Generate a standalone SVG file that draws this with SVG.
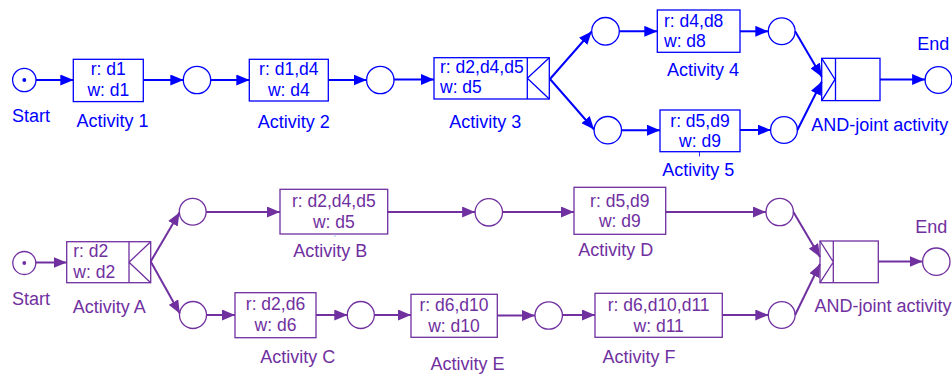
<svg xmlns="http://www.w3.org/2000/svg" width="952" height="374" viewBox="0 0 952 374">
  <style>
    text { font-family: "Liberation Sans", Arial, sans-serif; }
    .b { fill: none; stroke: #0000FF; stroke-width: 1.3; }
    .p { fill: none; stroke: #7030A0; stroke-width: 1.3; }
    .bt { fill: #0000FF; }
    .pt { fill: #7030A0; }
    .in { font-size: 17.5px; }
    .lb { font-size: 18px; text-anchor: middle; }
    .c { text-anchor: middle; }
    .eb { stroke: #0000FF; stroke-width: 2; fill: none; marker-end: url(#ab); }
    .ep { stroke: #7030A0; stroke-width: 2; fill: none; marker-end: url(#ap); }
  </style>
  <defs>
    <marker id="ab" viewBox="0 0 13 11" refX="13" refY="5.5" markerWidth="13" markerHeight="11" markerUnits="userSpaceOnUse" orient="auto">
      <path d="M0,0 L13,5.5 L0,11 z" fill="#0000FF"/>
    </marker>
    <marker id="ap" viewBox="0 0 13 11" refX="13" refY="5.5" markerWidth="13" markerHeight="11" markerUnits="userSpaceOnUse" orient="auto">
      <path d="M0,0 L13,5.5 L0,11 z" fill="#7030A0"/>
    </marker>
  </defs>

  <!-- Upper process (blue) -->
  <g id="start1">
    <circle class="b" cx="24.3" cy="80" r="11.7"/>
    <circle class="bt" cx="24.3" cy="80" r="1.9"/>
    <text class="bt lb" x="31" y="121.7">Start</text>
  </g>
  <g id="act1">
    <rect class="b" x="73.3" y="59.3" width="70" height="42.3"/>
    <text class="bt in c" x="108.3" y="75">r: d1</text>
    <text class="bt in c" x="108.3" y="96">w: d1</text>
    <text class="bt lb" x="112.5" y="127.3">Activity 1</text>
  </g>
  <g id="pa1"><circle class="b" cx="197" cy="80" r="13.7"/></g>
  <g id="act2">
    <rect class="b" x="249.3" y="59.3" width="79" height="41.7"/>
    <text class="bt in c" x="288.8" y="75">r: d1,d4</text>
    <text class="bt in c" x="288.8" y="95.7">w: d4</text>
    <text class="bt lb" x="293.8" y="128.3">Activity 2</text>
  </g>
  <g id="pa2"><circle class="b" cx="380.3" cy="80" r="13.7"/></g>
  <g id="act3">
    <rect class="b" x="434" y="57.7" width="115.3" height="41.3"/>
    <path class="b" d="M527.3,57.7 V99 M549.3,57.7 L527.3,78.3 L549.3,99"/>
    <text class="bt in" x="440" y="73.3">r: d2,d4,d5</text>
    <text class="bt in" x="440" y="93.3">w: d5</text>
    <text class="bt lb" x="485.3" y="128.3">Activity 3</text>
  </g>
  <g id="pa3"><circle class="b" cx="605.5" cy="31.3" r="13.8"/></g>
  <g id="pa4"><circle class="b" cx="607.8" cy="130.2" r="13.7"/></g>
  <g id="act4">
    <rect class="b" x="657.3" y="10" width="82.7" height="42.3"/>
    <text class="bt in" x="664" y="26.7">r: d4,d8</text>
    <text class="bt in" x="664" y="46.7">w: d8</text>
    <text class="bt lb" x="703" y="76">Activity 4</text>
  </g>
  <g id="act5">
    <rect class="b" x="660" y="110" width="80" height="41.7"/>
    <line x1="699.5" y1="151.7" x2="699.5" y2="156.5" stroke="#0000FF" stroke-width="0.8"/>
    <text class="bt in c" x="700" y="126.7">r: d5,d9</text>
    <text class="bt in c" x="700" y="146.7">w: d9</text>
    <text class="bt lb" x="698.3" y="176.3">Activity 5</text>
  </g>
  <g id="pa5"><circle class="b" cx="781.7" cy="31.3" r="13.4"/></g>
  <g id="pa6"><circle class="b" cx="784" cy="130" r="13.4"/></g>
  <g id="and1">
    <rect class="b" x="821.7" y="58.3" width="58.3" height="42.3"/>
    <path class="b" d="M835.5,58.3 V100.6 M821.7,58.3 L835,79.4 L821.7,100.6"/>
    <text class="bt lb" x="879.8" y="131">AND-joint activity</text>
  </g>
  <g id="end1">
    <circle class="b" cx="938.5" cy="80" r="13.4"/>
    <text class="bt lb" x="933.3" y="50">End</text>
  </g>

  <!-- Lower process (purple) -->
  <g id="start2">
    <circle class="p" cx="24.3" cy="263" r="11.5"/>
    <circle class="pt" cx="24.3" cy="263" r="1.9"/>
    <text class="pt lb" x="31" y="305">Start</text>
  </g>
  <g id="actA">
    <rect class="p" x="66.7" y="241.7" width="84" height="41"/>
    <path class="p" d="M129,241.7 V282.7 M150.7,241.7 L129,262.3 L150.7,282.7"/>
    <text class="pt in" x="73.3" y="256.7">r: d2</text>
    <text class="pt in" x="73.3" y="277.7">w: d2</text>
    <text class="pt lb" x="109.2" y="313.3">Activity A</text>
  </g>
  <g id="pb1"><circle class="p" cx="192.7" cy="211.7" r="13.4"/></g>
  <g id="pb2"><circle class="p" cx="193" cy="315" r="13.5"/></g>
  <g id="actB">
    <rect class="p" x="280" y="189.3" width="107.7" height="44.7"/>
    <line x1="335" y1="234" x2="335" y2="237" stroke="#8fb0e0" stroke-width="0.8"/>
    <text class="pt in c" x="333.8" y="207.3">r: d2,d4,d5</text>
    <text class="pt in c" x="333.8" y="227.7">w: d5</text>
    <text class="pt lb" x="330.3" y="256.7">Activity B</text>
  </g>
  <g id="pb3"><circle class="p" cx="488.8" cy="212.3" r="13.7"/></g>
  <g id="actD">
    <rect class="p" x="574" y="187.3" width="91.7" height="47"/>
    <text class="pt in c" x="619.8" y="206.7">r: d5,d9</text>
    <text class="pt in c" x="619.8" y="226.7">w: d9</text>
    <text class="pt lb" x="615.8" y="256">Activity D</text>
  </g>
  <g id="pb4"><circle class="p" cx="779.7" cy="212" r="13.7"/></g>
  <g id="actC">
    <rect class="p" x="235" y="292.7" width="81" height="45"/>
    <text class="pt in c" x="275.5" y="310">r: d2,d6</text>
    <text class="pt in c" x="275.5" y="331">w: d6</text>
    <text class="pt lb" x="297.8" y="362.7">Activity C</text>
  </g>
  <g id="pb5"><circle class="p" cx="360.8" cy="315" r="13.5"/></g>
  <g id="actE">
    <rect class="p" x="411" y="294.3" width="86.3" height="43"/>
    <text class="pt in c" x="454" y="310.7">r: d6,d10</text>
    <text class="pt in c" x="454" y="331.7">w: d10</text>
    <text class="pt lb" x="467.5" y="370">Activity E</text>
  </g>
  <g id="pb6"><circle class="p" cx="548.7" cy="315.5" r="13.7"/></g>
  <g id="actF">
    <rect class="p" x="595" y="293.3" width="127.3" height="44"/>
    <text class="pt in c" x="658.7" y="310.7">r: d6,d10,d11</text>
    <text class="pt in c" x="658.7" y="331.7">w: d11</text>
    <text class="pt lb" x="639" y="362.7">Activity F</text>
  </g>
  <g id="pb7"><circle class="p" cx="781.7" cy="315" r="13.4"/></g>
  <g id="and2">
    <rect class="p" x="820" y="241" width="58.3" height="41.7"/>
    <path class="p" d="M833.3,241 V282.7 M820,241 L833.3,262 L820,282.7"/>
    <text class="pt lb" x="883" y="312.3">AND-joint activity</text>
  </g>
  <g id="end2">
    <circle class="p" cx="936.3" cy="261.7" r="13.7"/>
    <text class="pt lb" x="931.3" y="232.7">End</text>
  </g>

  <!-- Connectors -->
  <g id="connectors">
    <line class="eb" x1="36" y1="80" x2="73.3" y2="80"/>
    <line class="eb" x1="143.3" y1="80" x2="183.3" y2="80"/>
    <line class="eb" x1="210.7" y1="80" x2="249.3" y2="80"/>
    <line class="eb" x1="328.3" y1="80" x2="366.6" y2="80"/>
    <line class="eb" x1="394" y1="79.5" x2="434" y2="79.5"/>
    <line class="eb" x1="550" y1="79" x2="591.7" y2="31.5"/>
    <line class="eb" x1="550" y1="79" x2="594.1" y2="129.5"/>
    <line class="eb" x1="619.3" y1="31.3" x2="657.3" y2="31.3"/>
    <line class="eb" x1="621.5" y1="130.2" x2="660" y2="130.2"/>
    <line class="eb" x1="740" y1="31.3" x2="768.3" y2="31.3"/>
    <line class="eb" x1="740" y1="130" x2="770.6" y2="130"/>
    <line class="eb" x1="795.1" y1="31.3" x2="821.7" y2="76.7"/>
    <line class="eb" x1="797.4" y1="130" x2="821.7" y2="81.7"/>
    <line class="eb" x1="880" y1="79.5" x2="925.1" y2="79.5"/>

    <line class="ep" x1="35.8" y1="262.5" x2="66.7" y2="262.5"/>
    <line class="ep" x1="150.7" y1="261.5" x2="179.5" y2="212.5"/>
    <line class="ep" x1="150.7" y1="261.5" x2="179.8" y2="313.5"/>
    <line class="ep" x1="206.1" y1="212" x2="280" y2="212"/>
    <line class="ep" x1="206.5" y1="315" x2="235" y2="315"/>
    <line class="ep" x1="387.7" y1="212" x2="475.1" y2="212"/>
    <line class="ep" x1="316" y1="315" x2="347.3" y2="315"/>
    <line class="ep" x1="502.5" y1="212" x2="574" y2="212"/>
    <line class="ep" x1="374.3" y1="315" x2="411" y2="315"/>
    <line class="ep" x1="497.3" y1="315.5" x2="535" y2="315.5"/>
    <line class="ep" x1="665.7" y1="212" x2="766" y2="212"/>
    <line class="ep" x1="562.4" y1="315" x2="595" y2="315"/>
    <line class="ep" x1="722.3" y1="315" x2="768.3" y2="315"/>
    <line class="ep" x1="793.4" y1="212" x2="820" y2="257"/>
    <line class="ep" x1="795.1" y1="315" x2="820" y2="264"/>
    <line class="ep" x1="878.3" y1="261.5" x2="922.6" y2="261.5"/>
  </g>
</svg>
